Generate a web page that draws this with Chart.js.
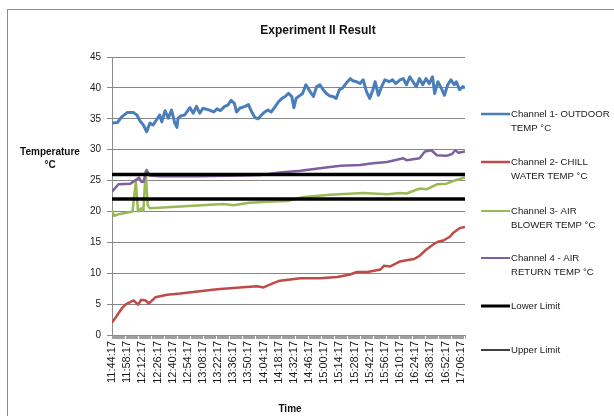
<!DOCTYPE html>
<html>
<head>
<meta charset="utf-8">
<script src="https://cdn.jsdelivr.net/npm/chart.js@4.4.1/dist/chart.umd.min.js"></script>
<style>
html,body{margin:0;padding:0;background:#fff;overflow:hidden;}
canvas{display:block;}
</style>
</head>
<body>
<canvas id="c" width="614" height="416"></canvas>
<script>
// Minutes after 11:44:17 and temperatures (°C)
const ch1Minutes = [0,5,9,14,20,23,26,29,32,35,38,41,44,46,49,52,55,58,60,61,64,67,72,75,78,81,84,90,94,97,100,104,107,110,113,115,118,123,126,129,132,135,138,141,144,147,150,154,157,160,163,166,168,170,173,176,179,183,186,189,192,195,198,201,204,207,210,213,216,220,223,226,229,232,235,238,241,243,246,249,252,256,259,262,266,269,272,275,278,281,284,287,290,293,296,298,301,304,307,310,313,316,318,321,324,326];
const ch1Temp    = [34.3,34.4,35.3,36.0,36.0,35.6,34.6,34.0,32.9,34.3,34.0,34.8,35.6,34.5,36.3,35.1,36.4,34.3,33.6,35.1,35.5,35.6,36.8,35.9,37.0,35.9,36.7,36.4,36.1,36.6,36.3,37.0,37.2,38.0,37.5,36.1,36.7,37.0,37.3,36.1,35.2,35.0,35.6,36.1,36.4,36.1,36.8,37.8,38.3,38.6,39.1,38.6,36.8,38.3,38.7,39.1,40.5,39.4,38.6,40.2,40.5,39.7,39.1,38.7,38.6,38.3,39.7,40.0,40.7,41.5,41.1,41.0,40.7,41.3,39.4,38.3,39.7,41.0,38.8,40.2,41.3,41.0,41.3,40.7,41.3,41.5,40.5,41.8,41.0,40.2,41.5,40.5,41.5,40.7,41.8,39.1,41.0,40.0,38.8,40.5,41.3,40.5,41.0,39.7,40.2,40.0];

const ch2Minutes = [0,4,9,13,20,24,27,31,34,40,51,63,81,97,118,134,140,149,155,174,192,208,220,226,236,248,251,257,266,272,279,284,290,297,301,306,312,315,321,326];
const ch2Temp    = [2.0,3.0,4.3,5.0,5.6,4.9,5.7,5.6,5.1,6.1,6.5,6.7,7.1,7.4,7.7,7.9,7.7,8.4,8.8,9.2,9.2,9.4,9.8,10.2,10.2,10.6,11.2,11.1,11.9,12.1,12.3,12.8,13.8,14.7,15.1,15.3,15.9,16.5,17.3,17.5];

const ch3Minutes = [0,2,7,13,19,22,24,27,29,31,33,35,63,103,112,127,148,162,176,201,232,254,266,272,284,291,300,309,318,326];
const ch3Temp    = [20.2,19.3,19.6,19.8,20.0,25.0,20.0,20.5,20.1,26.5,21.0,20.5,20.8,21.2,21.0,21.4,21.6,21.7,22.3,22.7,23.0,22.8,23.0,22.9,23.7,23.6,24.4,24.5,25.1,25.5];

const ch4Minutes = [0,6,17,23,25,27,29,32,35,44,81,118,137,155,174,192,211,229,241,254,269,272,284,289,295,300,309,314,317,320,326];
const ch4Temp    = [23.2,24.4,24.5,25.2,25.5,24.8,24.8,26.7,25.8,25.7,25.7,25.8,25.9,26.3,26.6,27.0,27.4,27.5,27.8,28.0,28.6,28.3,28.6,29.7,29.9,29.1,29.0,29.3,29.9,29.5,29.7];

const limitMinutes = [0,326];
const lowerLimit   = [22,22];
const upperLimit   = [26,26];

const tickLabels = ['11:44:17','11:58:17','12:12:17','12:26:17','12:40:17','12:54:17','13:08:17','13:22:17','13:36:17','13:50:17','14:04:17','14:18:17','14:32:17','14:46:17','15:00:17','15:14:17','15:28:17','15:42:17','15:56:17','16:10:17','16:24:17','16:38:17','16:52:17','17:06:17'];
const tickEvery = 14;

const seriesNames = [
  ['Channel 1- OUTDOOR','TEMP °C'],
  ['Channel 2- CHILL','WATER TEMP °C'],
  ['Channel 3- AIR','BLOWER TEMP °C'],
  ['Channel 4 - AIR','RETURN TEMP °C'],
  ['Lower Limit'],
  ['Upper Limit']
];

const colors = ['#4a7ebb','#be4b48','#98b954','#7d60a0','#000000','#000000'];

function pts(xs, ys){ return xs.map((x,i)=>({x:x, y:ys[i]})); }

const FONT = '"Liberation Sans", Arial, sans-serif';

const decor = {
  id:'decor',
  beforeDraw(chart){
    const ctx = chart.ctx;
    ctx.save();
    ctx.strokeStyle = '#8c8c8c';
    ctx.lineWidth = 1;
    ctx.strokeRect(7.5, 9.5, 700, 500);
    ctx.restore();
  },
  afterDraw(chart){
    const ctx = chart.ctx;
    ctx.save();
    ctx.fillStyle = '#111';
    ctx.textBaseline = 'middle';
    ctx.textAlign = 'center';
    ctx.font = 'bold 12px ' + FONT;
    ctx.fillText('Experiment II Result', 318, 31);
    ctx.font = 'bold 10px ' + FONT;
    ctx.fillText('Temperature', 50, 152);
    ctx.fillText('°C', 50, 165);
    ctx.fillText('Time', 290, 409);
    // legend
    const ys = [114,162,211,258,306,350];
    const widths = [2.5,2.5,2,2,3,1.5];
    ctx.textAlign = 'left';
    ctx.font = '9.6px ' + FONT;
    seriesNames.forEach((lines,i)=>{
      const y = ys[i];
      ctx.strokeStyle = colors[i];
      ctx.lineWidth = widths[i];
      ctx.beginPath();
      ctx.moveTo(481, y); ctx.lineTo(510, y);
      ctx.stroke();
      ctx.fillStyle = '#1a1a1a';
      lines.forEach((t,j)=> ctx.fillText(t, 511, y + j*14));
    });
    ctx.restore();
  }
};

new Chart(document.getElementById('c'), {
  type:'line',
  data:{
    datasets:[
      {data:pts(limitMinutes, lowerLimit), borderColor:colors[4], borderWidth:3.5, order:0},
      {data:pts(limitMinutes, upperLimit), borderColor:colors[5], borderWidth:3.5, order:0},
      {data:pts(ch4Minutes, ch4Temp), borderColor:colors[3], borderWidth:2.5, order:1},
      {data:pts(ch3Minutes, ch3Temp), borderColor:colors[2], borderWidth:2.5, order:2},
      {data:pts(ch2Minutes, ch2Temp), borderColor:colors[1], borderWidth:2.5, order:3},
      {data:pts(ch1Minutes, ch1Temp), borderColor:colors[0], borderWidth:3, order:4}
    ]
  },
  options:{
    responsive:false,
    animation:false,
    devicePixelRatio:1,
    layout:{padding:{left:0, top:57, right:149, bottom:0}},
    elements:{point:{radius:0}, line:{tension:0, borderJoinStyle:'round', borderCapStyle:'butt'}},
    plugins:{legend:{display:false}, tooltip:{enabled:false}, title:{display:false}},
    scales:{
      x:{
        type:'linear', min:0, max:326,
        afterFit(s){ s.height = 81; },
        border:{color:'#8c8c8c', width:1},
        grid:{drawOnChartArea:false, drawTicks:true, tickLength:4, color:'#a0a0a0'},
        ticks:{
          stepSize:1, autoSkip:false, maxTicksLimit:1000, maxRotation:90, minRotation:90,
          padding:2, color:'#1a1a1a', font:{family:FONT, size:11},
          callback(v){ return (v % tickEvery === 0 && tickLabels[v/tickEvery]) ? tickLabels[v/tickEvery] : ''; }
        }
      },
      y:{
        min:0, max:45,
        afterFit(s){ s.width = 112; },
        border:{color:'#8c8c8c', width:1},
        grid:{color:'#868686', lineWidth:1, tickLength:5},
        ticks:{stepSize:5, padding:6, color:'#1a1a1a', font:{family:FONT, size:10}}
      }
    }
  },
  plugins:[decor]
});
</script>
</body>
</html>
